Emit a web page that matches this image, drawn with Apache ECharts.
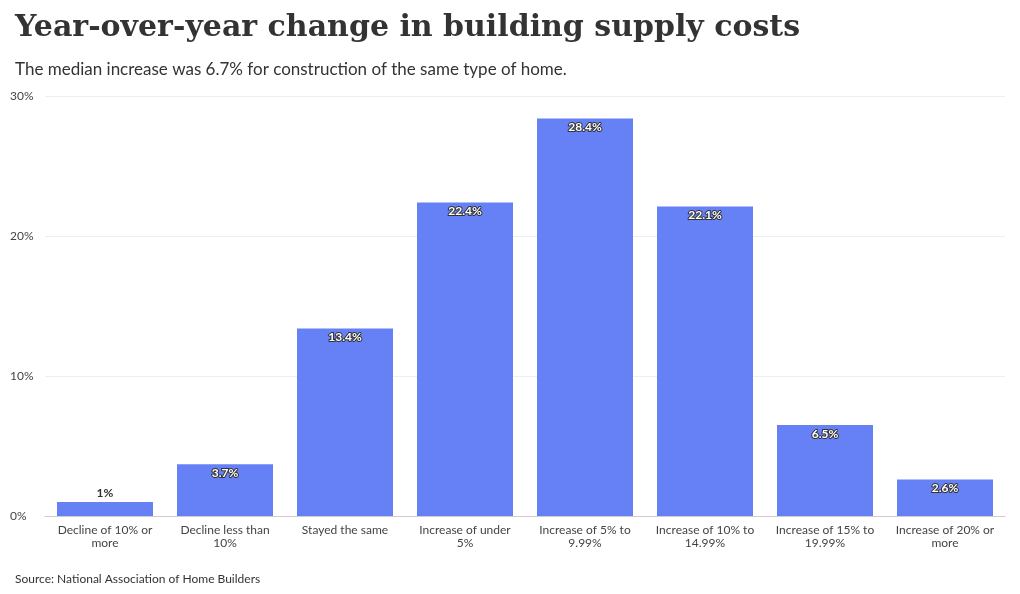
<!DOCTYPE html>
<html><head><meta charset="utf-8">
<script src="https://cdn.jsdelivr.net/npm/echarts@6/dist/echarts.min.js"></script>
<style>html,body{margin:0;padding:0;background:#fff}#container{width:1020px;height:594px}</style>
</head><body><div id="container"></div>
<script>
var categories = ['Decline of 10% or\nmore', 'Decline less than\n10%', 'Stayed the same', 'Increase of under\n5%', 'Increase of 5% to\n9.99%', 'Increase of 10% to\n14.99%', 'Increase of 15% to\n19.99%', 'Increase of 20% or\nmore'];
var values = [1, 3.7, 13.4, 22.4, 28.4, 22.1, 6.5, 2.6];
var labels = ['1%', '3.7%', '13.4%', '22.4%', '28.4%', '22.1%', '6.5%', '2.6%'];

var myChart = echarts.init(document.getElementById('container'));
var data = values.map(function (v, i) {
    var d = {value: v};
    if (v < 3) {
        d.label = {position: 'top', color: '#333', textBorderWidth: 0};
    }
    if (i === 7) d.label = {position: 'insideTop', color: '#fff', textBorderColor: '#333', textBorderWidth: 2};
    return d;
});
var option = {
    textStyle: {fontFamily: 'Lato'},
    title: [{
        text: 'Year-over-year change in building supply costs',
        left: 10, top: 8,
        textStyle: {fontFamily: 'DejaVu Serif', fontWeight: 'bold', fontSize: 30, color: '#333'}
    }, {
        text: 'The median increase was 6.7% for construction of the same type of home.',
        left: 10, top: 56,
        textStyle: {fontFamily: 'Lato', fontWeight: 'normal', fontSize: 17, color: '#333'}
    }, {
        text: 'Source: National Association of Home Builders',
        left: 10, top: 568,
        textStyle: {fontFamily: 'Lato', fontWeight: 'normal', fontSize: 12, color: '#333'}
    }],
    grid: {left: 45, right: 15, top: 96, bottom: 78},
    xAxis: {
        type: 'category', data: categories,
        axisTick: {show: false},
        axisLine: {lineStyle: {color: '#ccc'}},
        axisLabel: {color: '#444', fontSize: 12, lineHeight: 13, interval: 0}
    },
    yAxis: {
        type: 'value', min: 0, max: 30, interval: 10,
        axisLabel: {formatter: '{value}%', color: '#444', fontSize: 12, align: 'left', margin: 35},
        splitLine: {lineStyle: {color: '#eee'}}
    },
    series: [{
        type: 'bar', data: data, barCategoryGap: '20%',
        itemStyle: {color: '#6680f5'},
        label: {
            show: true, position: 'insideTop', distance: 3,
            formatter: function (p) { return labels[p.dataIndex]; },
            color: '#fff', fontWeight: 'bold', fontSize: 12,
            textBorderColor: '#333', textBorderWidth: 2
        }
    }]
};
myChart.setOption(option);
</script></body></html>
